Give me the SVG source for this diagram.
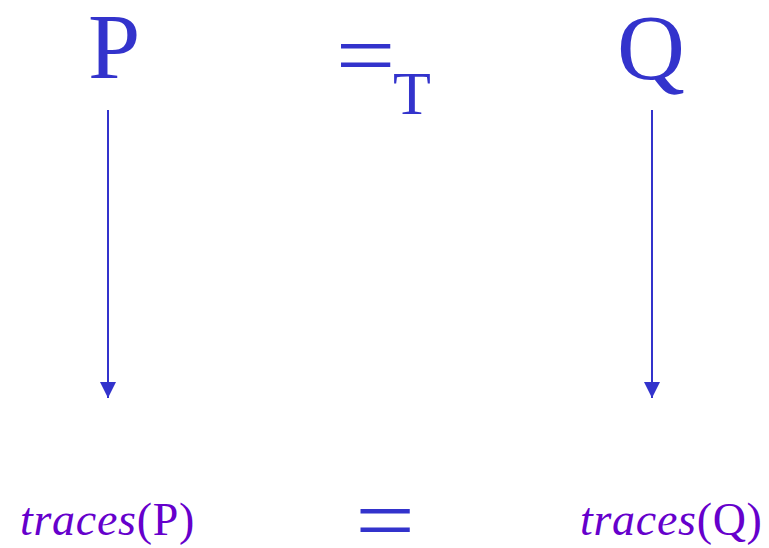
<svg xmlns="http://www.w3.org/2000/svg" width="769" height="548" viewBox="0 0 769 548">
<style>
.t{font-family:"Liberation Serif","Times New Roman",serif;fill:#3333CC}
.eq{font-family:"Liberation Serif","Times New Roman",serif;fill:#3333CC;font-size:92px;text-anchor:middle}
.p{font-family:"Liberation Serif","Times New Roman",serif;fill:#6600CC;font-size:46px;letter-spacing:0.7px}
.c{stroke:#3333CC;stroke-width:2;fill:none}
</style>
<defs>
<marker id="ah" markerWidth="16" markerHeight="16" viewBox="0 0 16 16" refX="16" refY="8" orient="auto" markerUnits="userSpaceOnUse">
<path d="M0,0 L16,8 L0,16 Z" fill="#3333CC"/>
</marker>
</defs>
<g id="P"><text class="t" x="88" y="78" font-size="94">P</text></g>
<g id="eqT"><text class="eq" transform="translate(365.5,86) scale(1.15,1)">=</text><text class="t" x="393" y="114" font-size="62">T</text></g>
<g id="Q"><text class="t" x="617" y="79" font-size="94">Q</text></g>
<g id="tracesP"><text class="p" x="20" y="535"><tspan font-style="italic">traces</tspan>(P)</text></g>
<g id="eq"><text class="eq" transform="translate(385,551) scale(1.15,1)">=</text></g>
<g id="tracesQ"><text class="p" x="580" y="535"><tspan font-style="italic">traces</tspan>(Q)</text></g>
<g id="connectors">
<line class="c" x1="108" y1="110" x2="108" y2="398" marker-end="url(#ah)"/>
<line class="c" x1="652" y1="110" x2="652" y2="398" marker-end="url(#ah)"/>
</g>
</svg>
